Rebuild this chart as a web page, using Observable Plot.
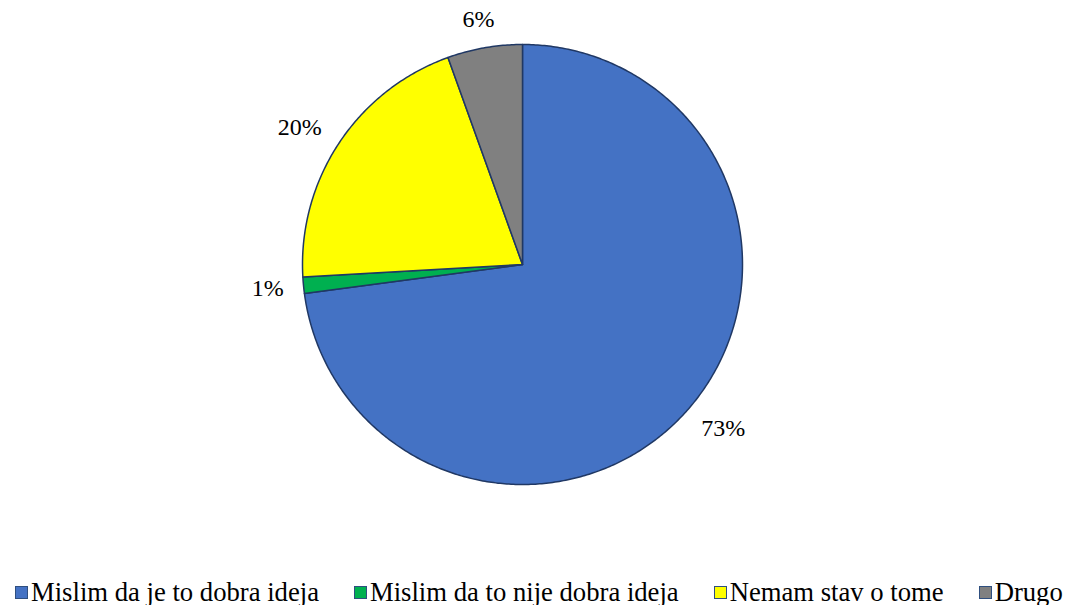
<!DOCTYPE html>
<html>
<head>
<meta charset="utf-8">
<script src="https://cdn.jsdelivr.net/npm/d3@7"></script>
<script src="https://cdn.jsdelivr.net/npm/@observablehq/plot@0.6"></script>
<style>
  html, body { margin: 0; padding: 0; background: #fff; overflow: hidden; }
  #wrap { position: relative; width: 1073px; height: 605px; }
  #legend { position: absolute; left: 15px; top: 577px; display: flex; align-items: center;
    font-family: "Liberation Serif", "Times New Roman", serif; font-size: 26.67px; line-height: 30px; color: #000; white-space: nowrap; }
  .item { display: flex; align-items: center; margin-right: 35px; }
  .sw { width: 13px; height: 13px; box-sizing: border-box; border: 1.5px solid #2f4f7f; margin-right: 3px; }
</style>
</head>
<body>
<div id="wrap"><div id="chart"></div><div id="legend"></div></div>
<script>
const categories = ["Mislim da je to dobra ideja", "Mislim da to nije dobra ideja", "Nemam stav o tome", "Drugo"];
const values = [72.9, 1.2, 20.4, 5.5];
const labels = ["73%", "1%", "20%", "6%"];
const colors = ["#4472C4", "#00B050", "#FFFF00", "#808080"];

const R = 220; // pixel radius used for label offset conversion
const arcs = d3.pie().sort(null).value(d => d)(values);

function ring(a0, a1) {
  const pts = [[0, 0]];
  const n = Math.max(2, Math.ceil((a1 - a0) / 0.01));
  for (let i = 0; i <= n; i++) {
    const a = a0 + (a1 - a0) * i / n;
    pts.push([Math.sin(a), Math.cos(a)]);
  }
  pts.push([0, 0]);
  return pts;
}

const slices = arcs.map((a, i) => ({
  type: "Feature",
  properties: {category: categories[i]},
  geometry: {type: "Polygon", coordinates: [ring(a.startAngle, a.endAngle)]}
}));

const circleRing = ring(0, 2 * Math.PI).slice(1, -1);
circleRing.push(circleRing[0]);
const domain = {type: "Polygon", coordinates: [circleRing]};

const labelData = arcs.map((a, i) => {
  const m = (a.startAngle + a.endAngle) / 2;
  const halfW = labels[i].length * 11;
  const halfH = 15;
  const d = 14;
  return {
    label: labels[i],
    x: ((R + d + halfW) * Math.sin(m)) / R,
    y: ((R + d + halfH) * Math.cos(m)) / R
  };
});

const serif = "'Liberation Serif', 'Times New Roman', serif";
const chart = Plot.plot({
  width: 1073,
  height: 520,
  marginLeft: 302,
  marginRight: 331,
  marginTop: 44,
  marginBottom: 36,
  projection: {type: "reflect-y", domain, inset: 0, clip: false},
  color: {domain: categories, range: colors},
  style: {fontFamily: serif, background: "#fff"},
  marks: [
    Plot.geo(slices, {fill: d => d.properties.category, stroke: "#203864", strokeWidth: 1.5, clip: false}),
    Plot.text(labelData, {x: "x", y: "y", text: "label", fontSize: 24, fontFamily: serif, fill: "#000", lineAnchor: "middle", clip: false})
  ]
});
document.getElementById("chart").appendChild(chart);

const legend = document.getElementById("legend");
categories.forEach((c, i) => {
  const item = document.createElement("div");
  item.className = "item";
  if (i === categories.length - 1) item.style.marginRight = "0";
  const sw = document.createElement("div");
  sw.className = "sw";
  sw.style.background = colors[i];
  const t = document.createElement("span");
  t.textContent = c;
  item.appendChild(sw);
  item.appendChild(t);
  legend.appendChild(item);
});
</script>
</body>
</html>
